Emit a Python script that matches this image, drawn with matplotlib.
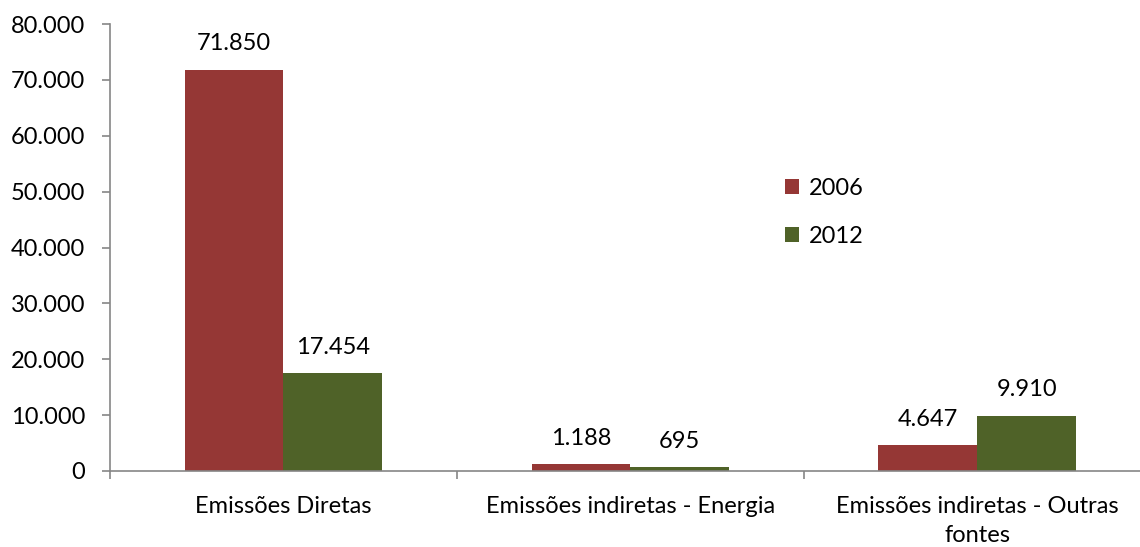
import matplotlib.pyplot as plt
import numpy as np

categorias = ['Emissões Diretas', 'Emissões indiretas - Energia', 'Emissões indiretas - Outras\nfontes']
anos = ['2006', '2012']
valores_2006 = [71850, 1188, 4647]
valores_2012 = [17454, 695, 9910]
cores = ['#953735', '#4F6228']

def fmt_pt(v):
    # separador de milhar com ponto
    return f"{int(v):,}".replace(',', '.')

plt.rcParams['font.family'] = ['Lato', 'DejaVu Sans']
plt.rcParams['font.size'] = 17

fig = plt.figure(figsize=(11.4, 5.47), dpi=100)
ax = fig.add_axes([0.0965, 0.139, 0.913, 0.817])

x = np.arange(len(categorias))
w = 0.285
for i, (vals, ano) in enumerate(zip([valores_2006, valores_2012], anos)):
    bars = ax.bar(x + (i - 0.5) * w, vals, w, color=cores[i], label=ano, zorder=2)
    for b, v in zip(bars, vals):
        ax.annotate(fmt_pt(v), (b.get_x() + b.get_width() / 2, v),
                    xytext=(0, 11), textcoords='offset points',
                    ha='center', va='bottom')

ax.set_xlim(-0.5, 2.5)
ax.set_ylim(0, 80000)
ax.set_yticks(np.arange(0, 80001, 10000))
ax.set_yticklabels([fmt_pt(t) for t in np.arange(0, 80001, 10000)])
ax.set_xticks(x)
ax.set_xticklabels(categorias, linespacing=1.45)
ax.set_xticks([-0.5, 0.5, 1.5, 2.5], minor=True)
ax.tick_params(axis='x', which='major', length=0, pad=18)
ax.tick_params(axis='x', which='minor', length=6, color='#868686', width=1.2)
ax.tick_params(axis='y', length=6, color='#868686', width=1.2, pad=12)

for s in ['top', 'right']:
    ax.spines[s].set_visible(False)
for s in ['left', 'bottom']:
    ax.spines[s].set_color('#868686')
    ax.spines[s].set_linewidth(1.2)

ax.legend(loc='upper left', bbox_to_anchor=(0.628, 0.703), frameon=False,
          handlelength=0.6, handleheight=0.6, handletextpad=0.4, labelspacing=1.15)

fig.savefig('out.png', dpi=100)
